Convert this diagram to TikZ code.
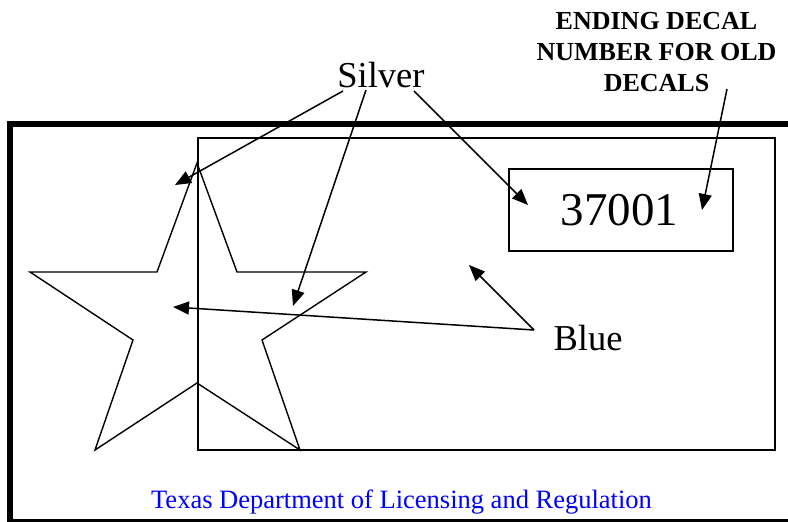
\documentclass[tikz,border=0pt]{standalone}
\usepackage{fontspec}
\setmainfont{Liberation Serif}
\usetikzlibrary{arrows.meta}
\begin{document}
\begin{tikzpicture}[x=1pt,y=-1pt,
  edge/.style={line width=1.4pt},
  ptr/.style={line width=1.5pt,-{Triangle[length=16pt,width=13pt]}},
  lbl/.style={inner sep=0pt,anchor=base},
  bigtxt/.style={font=\fontsize{36.5}{40}\selectfont},
  boldtxt/.style={font=\bfseries\fontsize{26}{30}\selectfont},
]
\useasboundingbox (0,0) rectangle (788,522);
% outer frame (clipped at the right)
\draw[line width=6pt,line join=miter] (10.3,530) -- (10.3,123.7) -- (800,123.7);
\draw[line width=3pt] (10.3,520.5) -- (800,520.5);
% inner rectangle
\draw[line width=1.6pt] (198,138) rectangle (775,450);
% star
\draw[edge,line join=miter] (197,163) -- (237,272) -- (366,272) -- (262,340) -- (300,450)
  -- (197,383) -- (95,450) -- (133,340) -- (30,272) -- (157,272) -- cycle;
% number box
\node[draw,edge,minimum width=224pt,minimum height=82pt,inner sep=0pt] (numbox) at (621,210) {};
\node[lbl,font=\fontsize{47}{50}\selectfont] (num) at (619.5,225) {37001};
% labels
\node[lbl,bigtxt] (silver) at (381,87) {Silver};
\node[lbl,bigtxt] (blue) at (588,350) {Blue};
\node[lbl,boldtxt] (end1) at (656.5,30) {ENDING DECAL};
\node[lbl,boldtxt] (end2) at (656.5,60.5) {NUMBER FOR OLD};
\node[lbl,boldtxt] (end3) at (656.5,91) {DECALS};
\node[lbl,text=blue,font=\fontsize{26.5}{30}\selectfont] (tdlr) at (401.5,508) {Texas Department of Licensing and Regulation};
% arrow ends
\coordinate (s1a) at (343,91);  \coordinate (s1b) at (175,185);
\coordinate (s2a) at (366,90);  \coordinate (s2b) at (293,306);
\coordinate (s3a) at (414,91);  \coordinate (s3b) at (528,205);
\coordinate (b0) at (534,330);
\coordinate (b1) at (469,265);  \coordinate (b2) at (173,307);
\coordinate (e0) at (727,89);   \coordinate (e1) at (702,210);
\draw[ptr] (s1a) -- (s1b);
\draw[ptr] (s2a) -- (s2b);
\draw[ptr] (s3a) -- (s3b);
\draw[ptr] (b0) -- (b1);
\draw[ptr] (b0) -- (b2);
\draw[ptr] (e0) -- (e1);
\end{tikzpicture}
\end{document}
